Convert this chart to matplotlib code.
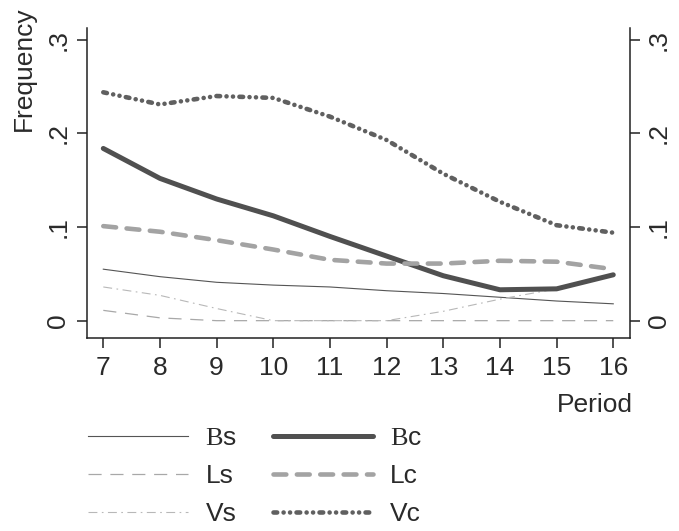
import matplotlib
matplotlib.use("Agg")
import matplotlib.pyplot as plt
import numpy as np

plt.rcParams['font.family'] = ['Liberation Sans', 'DejaVu Sans']
plt.rcParams['mathtext.fontset'] = 'custom'
plt.rcParams['mathtext.rm'] = 'Liberation Sans'
plt.rcParams['mathtext.sf'] = 'Liberation Serif'

# values
periods = [7, 8, 9, 10, 11, 12, 13, 14, 15, 16]
bs = [0.055, 0.047, 0.041, 0.038, 0.036, 0.032, 0.029, 0.025, 0.021, 0.018]
ls = [0.011, 0.003, 0.0, 0.0, 0.0, 0.0, 0.0, 0.0, 0.0, 0.0]
vs = [0.036, 0.027, 0.013, 0.0, 0.0, 0.0, 0.010, 0.023, 0.034, 0.048]
bc = [0.184, 0.152, 0.130, 0.112, 0.090, 0.069, 0.048, 0.033, 0.034, 0.049]
lc = [0.101, 0.095, 0.086, 0.076, 0.065, 0.061, 0.061, 0.064, 0.063, 0.055]
vc = [0.244, 0.231, 0.240, 0.238, 0.218, 0.193, 0.157, 0.127, 0.102, 0.094]

yticks = [0, 0.1, 0.2, 0.3]
ytick_labels = ['0', '.1', '.2', '.3']

fig = plt.figure(figsize=(6.79, 5.31), dpi=100)
ax = fig.add_axes([0.1281, 0.3635, 0.7997, 0.5838])

fs = 19
txt = '#2a2a2a'

# B in a serif face, the suffix in sans, as in the original legend
h_bs, = ax.plot(periods, bs, color='#555555', lw=0.8, label=r'$\mathsf{B}\mathrm{s}$')
h_ls, = ax.plot(periods, ls, color='#a8a8a8', lw=0.9, ls=(0, (10.5, 7)), label='Ls')
h_vs, = ax.plot(periods, vs, color='#b8b8b8', lw=0.8, ls=(0, (8, 4, 1.5, 4)), label='Vs')
h_bc, = ax.plot(periods, bc, color='#505050', lw=3.6, solid_capstyle='round',
                label=r'$\mathsf{B}\mathrm{c}$')
h_lc, = ax.plot(periods, lc, color='#a3a3a3', lw=3.3, ls=(0, (2.8, 2.3)),
                dash_capstyle='round', label='Lc')
h_vc, = ax.plot(periods, vc, color='#606060', lw=3.3,
                ls=(0, (0.8, 1.4, 0.01, 1.4, 0.01, 1.4)),
                dash_capstyle='round', label='Vc')

ax.set_xlim(6.712, 16.295)
ax.set_ylim(-0.0185, 0.3127)
ax.set_xticks(periods)
ax.set_xticklabels([str(p) for p in periods])
ax.set_yticks(yticks)
ax.set_yticklabels(ytick_labels, rotation=90, va='center')

ax.spines['top'].set_visible(False)
for s in ['left', 'right', 'bottom']:
    ax.spines[s].set_linewidth(1.1)
    ax.spines[s].set_color('#222222')

ax.tick_params(axis='both', direction='out', length=7, width=1.1, color='#222222',
               labelsize=fs, labelcolor=txt, pad=6)
ax.tick_params(axis='y', left=True, right=True, labelleft=True, labelright=True, pad=5)
for t in ax.yaxis.get_major_ticks():
    t.label1.set_rotation(90)
    t.label1.set_va('center')
    t.label2.set_rotation(90)
    t.label2.set_va('center')

fig.text(24 / 679, 1 - 69 / 531, 'Frequency', rotation=90, ha='center', va='center',
         fontsize=fs, color=txt)
fig.text(633 / 679, 1 - 405 / 531, 'Period', ha='right', va='center',
         fontsize=fs, color=txt)

leg = ax.legend(handles=[h_bs, h_ls, h_vs, h_bc, h_lc, h_vc], ncol=2, frameon=False,
                loc='upper left', bbox_to_anchor=(88 / 679, 1 - 426 / 531),
                bbox_transform=fig.transFigure, borderpad=0, borderaxespad=0,
                fontsize=fs, handlelength=3.8, handletextpad=0.65,
                columnspacing=1.35, labelspacing=0.53)
for t in leg.get_texts():
    t.set_color(txt)

fig.savefig('out.png', dpi=100)
